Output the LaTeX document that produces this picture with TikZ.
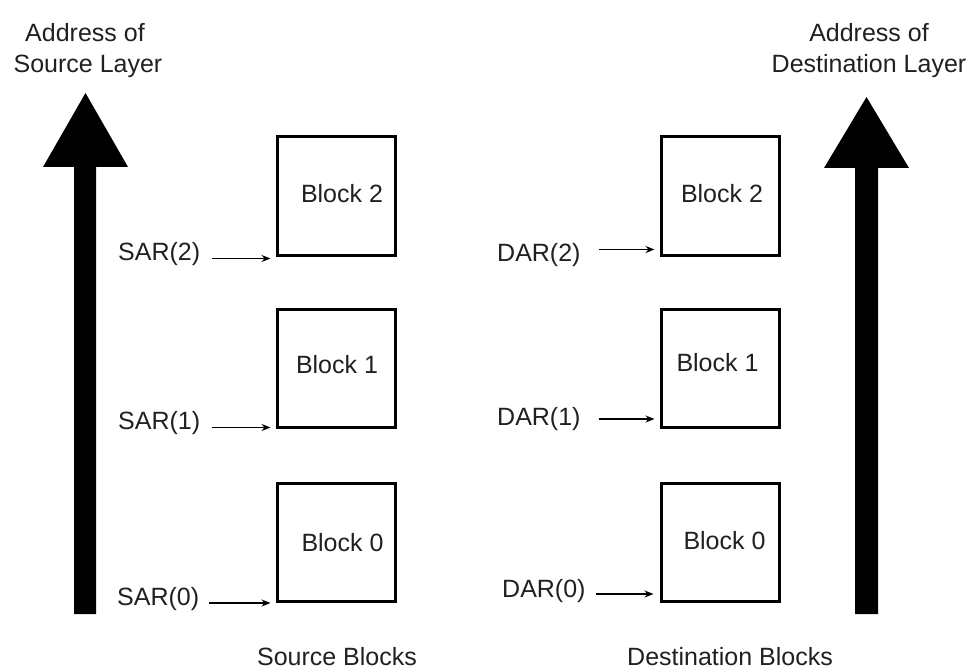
\documentclass[tikz,border=0pt]{standalone}
\usepackage{fontspec}
\setmainfont{Liberation Sans}
\usetikzlibrary{arrows.meta}
\definecolor{txt}{HTML}{231F20}
\begin{document}
\begin{tikzpicture}[x=1pt,y=-1pt,
  lbl/.style={inner sep=0pt,text=txt,font=\fontsize{25}{30}\selectfont},
  blk/.style={draw=black,line width=3pt,minimum width=118pt,minimum height=118pt,inner sep=0pt},
  ptr/.style={line width=1.3pt,-{Stealth[length=9pt,width=7pt]}},
  bigarrow/.style={fill=black}]
\useasboundingbox (0,0) rectangle (969,671);
% big arrows
\fill[bigarrow] (74,614) -- (74,167) -- (43,167) -- (85.5,93) -- (128,167) -- (96,167) -- (96,614) -- cycle;
\fill[bigarrow] (855,614) -- (855,168) -- (824,168) -- (866.5,97) -- (909,168) -- (878,168) -- (878,614) -- cycle;
% titles
\node[lbl,anchor=base] (as1) at (85,42) {Address of};
\node[lbl,anchor=base] (as2) at (88,73) {Source Layer};
\node[lbl,anchor=base] (ad1) at (869,42) {Address of};
\node[lbl,anchor=base] (ad2) at (869,73) {Destination Layer};
% source blocks
\node[blk] (s2) at (336,196) {};
\node[blk] (s1) at (336,368) {};
\node[blk] (s0) at (336,542.5) {};
\node[lbl] (s2t) at (342,194) {Block 2};
\node[lbl] (s1t) at (337,365) {Block 1};
\node[lbl] (s0t) at (342.5,543) {Block 0};
% destination blocks
\node[blk] (d2) at (720,196) {};
\node[blk] (d1) at (720,368.5) {};
\node[blk] (d0) at (720,542.5) {};
\node[lbl] (d2t) at (722,194) {Block 2};
\node[lbl] (d1t) at (717.5,363) {Block 1};
\node[lbl] (d0t) at (724.5,541) {Block 0};
% source labels
\node[lbl,anchor=base west] (sar2) at (118,260) {SAR(2)};
\node[lbl,anchor=base west] (sar1) at (118,429) {SAR(1)};
\node[lbl,anchor=base west] (sar0) at (117,605) {SAR(0)};
% destination labels
\node[lbl,anchor=base west] (dar2) at (497,261) {DAR(2)};
\node[lbl,anchor=base west] (dar1) at (497,425) {DAR(1)};
\node[lbl,anchor=base west] (dar0) at (502,597) {DAR(0)};
% pointer arrows
\coordinate (p2) at ([shift={(-5,2)}]s2.south west);
\coordinate (p1) at ([shift={(-5,-1)}]s1.south west);
\coordinate (p0) at ([shift={(-5,0)}]s0.south west);
\draw[ptr] (sar2.east |- p2) ++(12,0) -- (p2);
\draw[ptr] (sar1.east |- p1) ++(12,0) -- (p1);
\draw[ptr] (sar0.east |- p0) ++(10,0) -- (p0);
\coordinate (q2) at ([shift={(-5,-7)}]d2.south west);
\coordinate (q1) at ([shift={(-5,-10)}]d1.south west);
\coordinate (q0) at ([shift={(-6,-9)}]d0.south west);
\draw[ptr] (dar2.east |- q2) ++(18,0) -- (q2);
\draw[ptr] (dar1.east |- q1) ++(18,0) -- (q1);
\draw[ptr] (dar0.east |- q0) ++(10,0) -- (q0);
% bottom captions
\node[lbl,anchor=base] (srcb) at (337,665) {Source Blocks};
\node[lbl,anchor=base west] (dstb) at (627,665) {Destination Blocks};
\end{tikzpicture}
\end{document}
